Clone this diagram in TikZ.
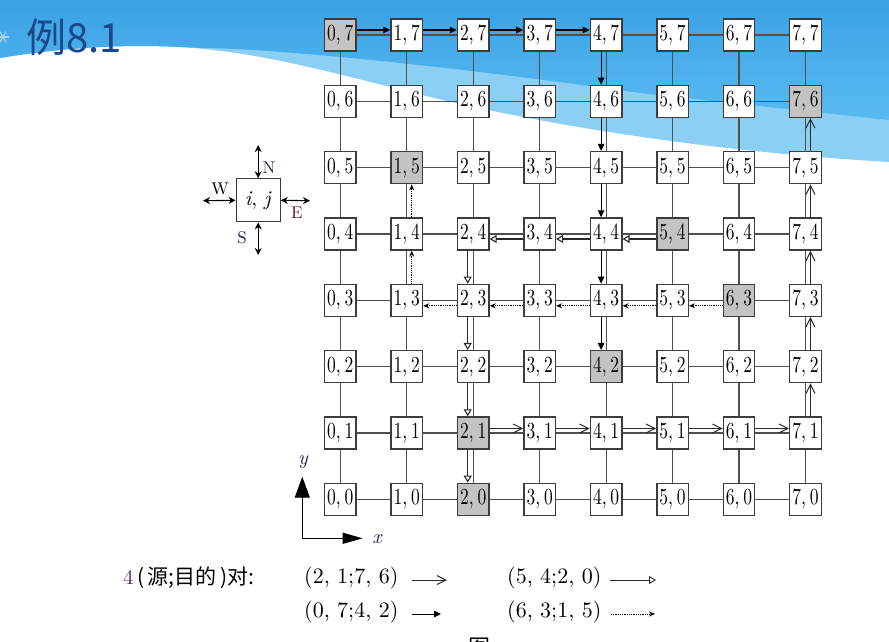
\documentclass[tikz,border=0pt]{standalone}
\usepackage{fontspec}
\usepackage{graphicx}
\newfontfamily\cjk{Noto Sans CJK SC}
\newfontfamily\lmten[Extension=.otf,ItalicFont=lmroman10-italic]{lmroman10-regular}
\usetikzlibrary{arrows.meta}
\definecolor{bgtop}{HTML}{3AA2E5}
\definecolor{bgmid}{HTML}{5ABAF1}
\definecolor{bglight}{HTML}{8CCFF5}
\definecolor{titleblue}{HTML}{1A4888}
\definecolor{gridc}{HTML}{505050}
\definecolor{boxc}{HTML}{3C3C3C}
\definecolor{cellgray}{HTML}{C3C3C3}
\definecolor{routec}{HTML}{2A2A2A}
\definecolor{purp}{HTML}{5B2A6E}
\definecolor{navy}{HTML}{1C2450}
\definecolor{dred}{HTML}{6A1C1C}
\newcommand\cl[2]{\scalebox{0.76}[1]{\lmten\fontsize{23}{25}\selectfont #1,\hspace{0.22em}#2}}
\newcommand\markhot[1]{\expandafter\def\csname hot#1\endcsname{}}
\markhot{07}\markhot{15}\markhot{21}\markhot{20}\markhot{42}\markhot{54}\markhot{63}\markhot{76}
\begin{document}
\begin{tikzpicture}[x=1pt,y=-1pt,
  cell/.style={draw=boxc, line width=1.4pt, minimum width=31.5pt, minimum height=32pt, inner sep=0pt, text=black},
  link/.style={draw=gridc, line width=1.1pt},
  rA/.style={draw=routec, line width=1.1pt, -{Straight Barb[length=9pt,width=9pt,line width=1pt]}},
  rB/.style={draw=black, line width=1.1pt, -{Triangle[length=7pt,width=6.5pt]}},
  rC/.style={draw=routec, line width=1.1pt, -{Triangle[open,length=7pt,width=8pt,fill=white]}},
  rD/.style={draw=black, line width=1.2pt, dash pattern=on 1pt off 0.8pt, -{Stealth[length=6pt,width=5pt]}},
  dira/.style={draw=black, line width=1.1pt, {Stealth[length=7pt,width=7pt]}-{Stealth[length=7pt,width=7pt]}},
  lab/.style={font=\lmten\fontsize{17}{19}\selectfont, inner sep=0pt},
  tup/.style={anchor=west, inner sep=0pt, font=\lmten\fontsize{22}{24}\selectfont, text=black}
]
\useasboundingbox (0,0) rectangle (889,641);
% background
\fill[white] (0,0) rectangle (889,641);
\fill[bglight] (0,0) -- (889,0) -- (889,162) .. controls (720,152) and (560,128) .. (430,97)
  .. controls (330,72) and (260,52) .. (180,47) .. controls (120,44) and (60,48) .. (0,58) -- cycle;
\shade[top color=bgtop, bottom color=bgmid] (0,0) -- (889,0) -- (889,120) .. controls (840,115) and (760,106) .. (640,93)
  .. controls (420,62) and (260,48) .. (200,48) -- (180,47) .. controls (120,44) and (60,48) .. (0,58) -- cycle;
% snowflake
\foreach \a in {0,60,120}{\draw[white!55!bgtop, line width=1.3pt] (3,37) ++(\a:6) -- ++(\a+180:12);}
% title
\node[font=\cjk\fontsize{40}{44}\selectfont, text=titleblue, anchor=west, inner sep=0pt] (title) at (26,37) {例8.1};
% cells
\foreach \i in {0,...,7}{\foreach \j in {0,...,7}{
  \ifcsname hot\i\j\endcsname\def\cf{cellgray}\else\def\cf{white}\fi
  \node[cell, fill=\cf] (c\i\j) at ({340.3+66.45*\i},{499.3-66.33*\j}) {\cl{\i}{\j}};
}}
% links
\foreach \i in {0,...,6}{\pgfmathtruncatemacro\k{\i+1}\foreach \j in {0,...,7}{
  \draw[link] (c\i\j) -- (c\k\j);
  \draw[link] (c\j\i) -- (c\j\k);
}}
% route (2,1;7,6)
\foreach \a/\b in {2/3,3/4,4/5,5/6,6/7}{\draw[rA] ([yshift=4.5pt]c\a1.east) -- ([yshift=4.5pt]c\b1.west);}
\foreach \a/\b in {1/2,2/3,3/4,4/5,5/6}{\draw[rA] ([xshift=5pt]c7\a.north) -- ([xshift=5pt]c7\b.south);}
% route (0,7;4,2)
\foreach \a/\b in {0/1,1/2,2/3,3/4}{\draw[rB] ([yshift=5pt]c\a7.east) -- ([yshift=5pt]c\b7.west);}
\foreach \a/\b in {7/6,6/5,5/4,4/3,3/2}{\draw[rB] ([xshift=-5pt]c4\a.south) -- ([xshift=-5pt]c4\b.north);}
% route (5,4;2,0)
\foreach \a/\b in {5/4,4/3,3/2}{\draw[rC] ([yshift=-5pt]c\a4.west) -- ([yshift=-5pt]c\b4.east);}
\foreach \a/\b in {4/3,3/2,2/1,1/0}{\draw[rC] ([xshift=-5.5pt]c2\a.south) -- ([xshift=-5.5pt]c2\b.north);}
% route (6,3;1,5)
\foreach \a/\b in {6/5,5/4,4/3,3/2,2/1}{\draw[rD] ([yshift=-5.5pt]c\a3.west) -- ([yshift=-5.5pt]c\b3.east);}
\foreach \a/\b in {3/4,4/5}{\draw[rD] ([xshift=5pt]c1\a.north) -- ([xshift=5pt]c1\b.south);}
% direction box
\node[draw=boxc, line width=1.2pt, fill=white, minimum width=44pt, minimum height=43pt, inner sep=0pt] (dir) at (258.2,200.3)
  {\lmten\fontsize{21}{24}\selectfont\textit{i}, \textit{j}};
\coordinate (nN) at (258.2,145);
\coordinate (nW) at (203,200.7);
\coordinate (nE) at (310,200.7);
\coordinate (nS) at (258.2,255);
\draw[dira] (nN) -- (dir.north);
\draw[dira] (nW) -- (dir.west);
\draw[dira] (dir.east) -- (nE);
\draw[dira] (dir.south) -- (nS);
\node[lab, text=navy] (lN) at (269,168) {N};
\node[lab, text=black] (lW) at (220,189) {W};
\node[lab, text=dred] (lE) at (297,213) {E};
\node[lab, text=navy] (lS) at (242,238) {S};
% axes
\coordinate (org) at (302.3,538.3);
\coordinate (ytip) at (302.3,476.7);
\coordinate (xtip) at (362.7,538.3);
\draw[line width=1.2pt, -{Triangle[length=21pt,width=15pt]}] (org) -- (ytip);
\draw[line width=1.2pt, -{Triangle[length=20pt,width=11pt]}] (org) -- (xtip);
\node[font=\lmten\fontsize{20}{22}\selectfont\itshape, inner sep=0pt, text=navy] (ly) at (303,462) {y};
\node[font=\lmten\fontsize{20}{22}\selectfont\itshape, inner sep=0pt, text=navy] (lx) at (377,539) {x};
% legend
\node[anchor=west, inner sep=0pt, font=\fontsize{21}{24}\selectfont] (lg0) at (123,578)
  {\textcolor{purp}{\lmten 4}{\cjk\,(\,源;目的\,)对:}};
\node[tup] (t1) at (304,578) {(2, 1;7, 6)};
\node[tup] (t2) at (507,578) {(5, 4;2, 0)};
\node[tup] (t3) at (304,612) {(0, 7;4, 2)};
\node[tup] (t4) at (507,612) {(6, 3;1, 5)};
\coordinate (a1s) at (412,580); \coordinate (a1e) at (447,580);
\coordinate (a2s) at (610,580); \coordinate (a2e) at (656,580);
\coordinate (a3s) at (412,614); \coordinate (a3e) at (441,614);
\coordinate (a4s) at (611,614); \coordinate (a4e) at (655,614);
\draw[rA, line width=0.9pt] (a1s) -- (a1e);
\draw[rC, line width=0.9pt] (a2s) -- (a2e);
\draw[rB, line width=0.9pt] (a3s) -- (a3e);
\draw[rD, line width=0.9pt] (a4s) -- (a4e);
\node[font=\cjk\fontsize{22}{24}\selectfont, anchor=north, inner sep=0pt] (fig) at (479,637.5) {图};
\end{tikzpicture}
\end{document}
